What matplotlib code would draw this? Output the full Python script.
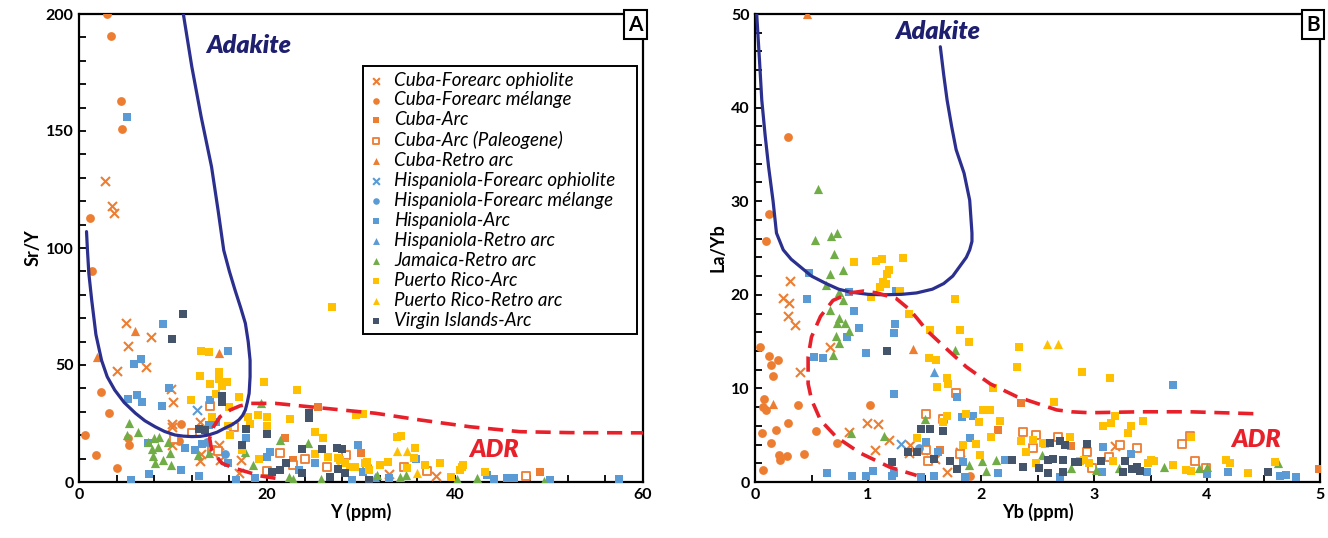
import matplotlib
matplotlib.use("Agg")
import matplotlib.pyplot as plt

plt.rcParams['font.family'] = ['Lato', 'DejaVu Sans']

# ---------------- colours ----------------
ORANGE = '#ED7D31'
BLUE = '#5B9BD5'
GREEN = '#70AD47'
YELLOW = '#FFC000'
GRAY = '#44546A'
NAVY = '#2B2F8E'
NAVY_TXT = '#1E1F6E'
RED = '#E8202A'

# ---------------- series names ----------------
series_names = ['Cuba-Forearc ophiolite', 'Cuba-Forearc mélange', 'Cuba-Arc',
                'Cuba-Arc (Paleogene)', 'Cuba-Retro arc', 'Hispaniola-Forearc ophiolite',
                'Hispaniola-Forearc mélange', 'Hispaniola-Arc', 'Hispaniola-Retro arc',
                'Jamaica-Retro arc', 'Puerto Rico-Arc', 'Puerto Rico-Retro arc',
                'Virgin Islands-Arc']

# ================= Panel A : Y (ppm) vs Sr/Y =================
a_cuba_fo_x = [2.8, 3.5, 3.7, 5.0, 5.2, 7.7, 4.0, 7.1, 9.8, 10.0, 9.9, 9.9, 12.9, 9.9, 14.9, 15.0, 13.0, 12.9, 17.0, 17.2, 33.0, 38.0]
a_cuba_fo_y = [128.6, 118, 115, 68, 58, 62, 47.6, 49, 39.6, 34, 25, 23.6, 25.5, 16, 16, 9.4, 12, 9, 4, 9.4, 3.4, 2.5]

a_cuba_fm_x = [3.0, 3.4, 4.5, 4.6, 1.2, 1.4, 2.3, 3.2, 0.6, 1.8, 4.0, 5.2, 5.3, 10.9, 10.6]
a_cuba_fm_y = [200, 190.6, 163, 150.7, 113, 90, 38.6, 29.6, 20, 11.5, 5.8, 18.7, 16, 24.8, 17.6]

a_cuba_arc_x = [25.4, 21.9, 22.8, 30.0, 49.0]
a_cuba_arc_y = [32, 18.7, 9.4, 12.3, 4.4]

a_cuba_pal_x = [13.9, 12.0, 10.1, 16.5, 14.2, 14.8, 21.4, 24.0, 20.0, 22.8, 28.4, 26.4, 30.6, 34.6, 37.0, 47.6]
a_cuba_pal_y = [32.5, 20.8, 18.4, 23.6, 13.7, 13.2, 12.5, 9.8, 4.7, 7.3, 11.5, 6.5, 5.4, 6.3, 4.6, 2.6]

a_cuba_ret_x = [6.0, 1.9, 14.9]
a_cuba_ret_y = [64.7, 53.6, 55.3]

a_hisp_fo_x = [12.6]
a_hisp_fo_y = [30.8]

a_hisp_fm_x = [15.5, 13.6]
a_hisp_fm_y = [12, 17]

a_hisp_arc_x = [5.1, 8.9, 6.6, 5.8, 5.2, 6.2, 6.7, 15.8, 8.8, 13.9, 11.3, 12.3, 13.1, 13.8, 14.6, 7.3, 10.9, 7.4, 5.5, 12.8,
                15.8, 16.7, 18.7, 20.0, 17.8, 20.3, 23.4, 25.1, 29.7, 29.0, 30.2, 35.9, 33.0, 43.4, 45.5, 46.3, 50.1, 57.4, 44.1, 9.6]
a_hisp_arc_y = [156, 67.5, 52.4, 50.4, 35.5, 37, 34, 56, 32.5, 35, 14.4, 13.7, 16.2, 24.4, 25.8, 16.8, 5.1, 3.4, 0.9, 2.6,
                8.3, 0.9, 1.6, 10.6, 18.7, 13, 5.1, 8, 15.8, 0.9, 4.4, 10, 1.7, 3, 1.6, 1.6, 0.9, 1.1, 1.1, 40]

a_hisp_ret_x = [31.5]
a_hisp_ret_y = [2.0]

a_jam_ret_x = [5.3, 5.1, 6.3, 7.3, 8.0, 8.5, 7.8, 8.4, 7.9, 8.9, 9.7, 9.8, 8.1, 9.5, 12.7, 13.8, 19.4, 17.7, 18.5, 21.4,
               24.4, 22.3, 22.8, 25.7, 31.7, 34.1, 34.8, 40.2, 42.3, 49.5]
a_jam_ret_y = [25.4, 20, 21.5, 17.2, 18.7, 19.1, 14, 15.1, 11.1, 9.4, 12.3, 7.3, 8, 17.2, 11.5, 12.3, 33.6, 13, 7.3, 18,
               16.8, 2.3, 1.1, 1.1, 3, 2, 3, 1.1, 1.8, 0.3]

a_pr_arc_x = [26.9, 13.0, 13.8, 12.9, 14.9, 14.9, 15.7, 13.9, 15.2, 19.7, 23.2, 11.9, 14.6, 16.0, 17.0, 14.1, 18.0, 19.0,
              20.0, 20.0, 22.4, 25.1, 26.0, 15.9, 16.1, 17.3, 18.2, 19.2, 25.1, 26.5, 27.6, 28.3, 29.5, 30.2, 29.4, 30.4,
              30.8, 33.8, 34.3, 35.7, 27.8, 28.8, 30.6, 32.0, 32.9, 34.9, 36.8, 39.6, 40.9, 40.5, 38.4, 40.7, 43.2, 35.6]
a_pr_arc_y = [75, 56, 55.7, 45.3, 46.9, 43.9, 42.9, 41.9, 41, 42.6, 39.3, 35, 37.6, 32.2, 36.2, 27.9, 27.9, 28.6,
              27.6, 24.1, 26.8, 21.5, 18.7, 24, 20, 13.7, 25, 9.7, 12, 10.8, 10.1, 8, 28.6, 29, 6.5, 8,
              5.1, 19.1, 19.7, 14.4, 9.4, 6.5, 8.7, 7.3, 8.7, 5.8, 7.3, 2.3, 7.3, 5.1, 8, 6.5, 4.4, 10.1]

a_pr_ret_x = [33.8, 34.9, 27.5, 36.0]
a_pr_ret_y = [13.4, 13.4, 7.0, 4.0]

a_vi_arc_x = [11.1, 9.9, 15.2, 15.2, 24.5, 24.5, 12.8, 13.4, 17.8, 20.0, 17.3, 23.7, 25.9, 27.4, 28.0, 22.0, 20.5, 23.7,
              27.6, 28.3, 26.7, 30.8, 21.4]
a_vi_arc_y = [71.7, 61, 36.8, 34.3, 29.6, 27.2, 22.5, 22.2, 22.5, 20.5, 15.8, 14, 14, 14.4, 14, 8, 4.4, 4,
              5.4, 4, 2.3, 0.9, 5.1]

# field boundaries, panel A
a_adakite_x = [11.1, 12.0, 13.0, 14.1, 14.8, 15.4, 16.0, 16.6, 17.2, 17.7, 18.0, 18.2, 18.2, 18.1, 17.9, 17.7, 17.4, 17.0,
               16.3, 15.5, 14.7, 13.8, 12.9, 12.0, 11.1, 10.2, 9.1, 8.1, 7.0, 6.0, 4.8, 3.8, 3.0, 2.4, 1.8, 1.35, 1.05, 0.9, 0.8]
a_adakite_y = [200, 177.5, 156, 134.7, 116, 99, 90, 82, 74.5, 67.8, 60, 52, 45, 37.9, 34, 30.8, 28.4, 26.5,
               24.5, 23, 21.3, 20.1, 19.5, 19.4, 19.6, 20.1, 21.6, 23.6, 26.2, 29.4, 34, 39.3, 45, 52, 63, 77.8, 89, 99, 107]

a_adr_x = [20.9, 19.3, 17.8, 16.6, 15.2, 14.1, 13.9, 14.3, 15.0, 16.1, 17.1, 18.2, 20.9, 24.4, 27.9, 31.5, 36.3, 41.6, 46.9, 52.2, 60.0]
a_adr_y = [1.6, 2.6, 4.4, 5.8, 8.0, 13.7, 18.7, 23.5, 27.9, 30.8, 32.5, 33.6, 33.6, 32.2, 30.8, 29.4, 26.5, 23.6, 21.5, 21.1, 21.0]

# ================= Panel B : Yb (ppm) vs La/Yb =================
b_cuba_fo_x = [0.31, 0.25, 0.30, 0.29, 0.35, 0.66, 0.40, 0.83, 1.06, 0.99, 1.09, 1.19, 1.37, 1.49, 1.70, 1.81, 1.59, 1.36, 3.19]
b_cuba_fo_y = [21.5, 19.7, 19.1, 17.7, 16.8, 14.4, 11.7, 5.3, 3.4, 6.3, 6.2, 4.5, 4.0, 3.4, 1.1, 3.2, 2.5, 3.1, 3.8]

b_cuba_fm_x = [0.29, 0.12, 0.10, 0.04, 0.12, 0.14, 0.20, 0.16, 0.08, 0.07, 0.10, 0.38, 0.29, 0.06, 0.19, 0.54, 0.14,
               0.21, 0.22, 0.28, 0.43, 0.07, 1.02, 0.73, 1.90]
b_cuba_fm_y = [36.9, 28.6, 25.7, 14.4, 13.5, 12.5, 13.0, 11.3, 8.9, 8.0, 7.7, 8.2, 6.3, 5.2, 5.6, 5.5, 4.2,
               2.9, 2.3, 2.8, 3.0, 1.3, 8.2, 4.2, 0.6]

b_cuba_arc_x = [2.35, 2.15, 1.64, 2.80, 4.99]
b_cuba_arc_y = [8.4, 5.6, 3.4, 3.8, 1.4]

b_cuba_pal_x = [1.78, 1.51, 1.66, 2.37, 2.46, 1.51, 1.53, 1.81, 2.49, 2.68, 2.94, 3.23, 3.38, 3.13, 2.98, 3.78, 3.85, 3.89, 3.99]
b_cuba_pal_y = [9.5, 7.3, 6.7, 5.3, 3.6, 3.4, 2.2, 3.0, 5.0, 4.8, 3.2, 3.9, 3.6, 2.7, 1.5, 4.1, 4.9, 2.2, 1.5]

b_cuba_ret_x = [0.46, 1.40, 0.16]
b_cuba_ret_y = [50, 14.2, 8.3]

b_hisp_fo_x = [1.29]
b_hisp_fo_y = [4.1]

b_hisp_fm_x = [1.45]
b_hisp_fm_y = [3.6]

b_hisp_arc_x = [0.48, 0.46, 0.83, 0.88, 0.92, 0.81, 0.52, 0.60, 0.98, 1.24, 1.23, 1.25, 1.23, 1.79, 1.83, 1.93, 1.90, 1.51,
                1.62, 0.64, 0.86, 0.98, 1.04, 1.21, 1.23, 1.47, 1.58, 1.84, 1.86, 2.15, 2.21, 3.70, 3.08, 3.33, 3.07, 3.47,
                4.00, 4.19, 4.65, 4.70, 4.79, 2.70]
b_hisp_arc_y = [22.3, 19.5, 20.3, 18.3, 16.4, 15.5, 13.4, 13.3, 13.8, 16.9, 15.9, 20.4, 9.4, 9.1, 6.9, 7.0, 4.7, 4.3,
                3.2, 1.0, 0.6, 0.6, 1.2, 0.6, 1.0, 0.5, 0.6, 2.1, 0.5, 1.0, 2.4, 10.4, 3.7, 3.0, 1.1, 1.1,
                0.9, 1.1, 0.6, 0.7, 0.5, 0.5]

b_hisp_ret_x = [1.58]
b_hisp_ret_y = [11.7]

b_jam_ret_x = [0.56, 0.53, 0.67, 0.73, 0.70, 0.66, 0.78, 0.63, 0.74, 0.78, 0.66, 0.74, 0.73, 0.80, 0.83, 0.72, 0.74,
               0.69, 1.77, 1.50, 0.85, 1.14, 2.01, 2.04, 2.13, 1.89, 2.54, 2.80, 3.02, 3.22, 3.62, 3.93, 4.00, 4.63]
b_jam_ret_y = [31.3, 25.9, 26.3, 26.6, 24.4, 22.2, 22.7, 21.0, 20.3, 19.4, 18.4, 17.5, 17.0, 17.0, 16.1, 15.6, 14.8,
               13.6, 14.1, 6.7, 5.2, 4.9, 2.2, 1.2, 2.3, 1.8, 2.9, 1.5, 1.3, 1.5, 1.6, 1.5, 1.6, 2.0]

b_pr_arc_x = [0.88, 1.07, 1.12, 1.31, 1.19, 1.17, 1.13, 1.16, 1.11, 1.28, 1.03, 1.36, 1.77, 1.55, 1.81, 1.89, 1.54, 1.60,
              1.70, 1.71, 1.61, 2.11, 2.34, 2.32, 1.87, 1.70, 1.66, 2.02, 2.08, 1.98, 2.17, 2.09, 1.96, 1.84, 1.99, 2.35,
              2.40, 2.46, 2.55, 2.49, 1.43, 2.89, 3.14, 2.65, 3.08, 3.15, 3.19, 3.30, 3.33, 3.43, 2.79, 2.57, 2.91, 2.96,
              3.17, 3.48, 3.53, 3.70, 3.81, 3.86, 4.17, 4.20, 4.36, 4.60, 3.86, 2.88, 3.50]
b_pr_arc_y = [23.5, 23.6, 23.8, 23.9, 22.7, 22.2, 21.4, 21.2, 20.8, 20.4, 19.8, 17.9, 19.5, 16.2, 16.2, 15.0, 13.3, 13.0,
              11.1, 10.5, 10.2, 10.0, 14.4, 12.3, 7.3, 7.0, 6.4, 7.7, 7.7, 6.4, 6.5, 4.8, 4.1, 4.0, 2.9, 4.4,
              3.2, 4.5, 4.2, 2.0, 4.7, 11.8, 11.1, 8.6, 6.0, 6.3, 7.0, 5.2, 6.0, 6.5, 4.8, 4.1, 2.4, 2.0,
              2.2, 2.0, 2.2, 1.8, 1.3, 1.2, 2.4, 2.0, 1.0, 2.1, 4.8, 2.2, 2.4]

b_pr_ret_x = [2.58, 2.68]
b_pr_ret_y = [14.7, 14.7]

b_vi_arc_x = [1.17, 1.47, 1.55, 1.66, 1.35, 1.43, 1.58, 1.21, 1.73, 1.79, 2.27, 2.37, 2.51, 2.59, 2.61, 2.70, 2.74, 2.94,
              2.83, 2.64, 2.73, 2.59, 2.73, 3.06, 3.27, 3.26, 3.34, 3.38, 3.41, 4.54, 2.86]
b_vi_arc_y = [14.0, 5.7, 5.7, 5.4, 3.2, 3.2, 2.5, 2.1, 2.2, 1.4, 2.4, 1.6, 1.5, 2.4, 4.2, 4.4, 4.0, 4.1,
              2.1, 2.5, 2.3, 1.0, 1.1, 2.2, 2.2, 1.1, 1.4, 1.6, 1.2, 1.1, 2.1]

# field boundaries, panel B
b_adakite_x = [0.015, 0.04, 0.06, 0.09, 0.12, 0.16, 0.19, 0.25, 0.32, 0.40, 0.50, 0.63, 0.74, 0.84, 1.0, 1.14, 1.30, 1.43,
               1.57, 1.67, 1.75, 1.81, 1.87, 1.90, 1.92, 1.92, 1.90, 1.85, 1.78, 1.74, 1.70, 1.67, 1.64]
b_adakite_y = [50, 45, 40.8, 37, 33.7, 30, 26.6, 24.8, 23.8, 23.0, 22.0, 21.2, 20.6, 20.3, 20.05, 20.0, 20.05, 20.2,
               20.6, 21.2, 22.0, 23.0, 24.0, 24.8, 25.7, 26.6, 30.1, 33.0, 35.5, 38.0, 40.8, 43.5, 46.5]

b_adr_x = [4.41, 3.85, 3.41, 2.96, 2.80, 2.67, 2.52, 2.32, 2.08, 1.87, 1.67, 1.52, 1.44, 1.37, 1.25, 1.08, 0.96, 0.84,
           0.69, 0.58, 0.50, 0.47, 0.47, 0.50, 0.58, 0.72, 0.93, 1.19, 1.43]
b_adr_y = [7.3, 7.5, 7.5, 7.4, 7.5, 7.7, 8.3, 9.1, 10.5, 12.3, 14.5, 16.2, 17.4, 18.4, 19.6, 20.2, 20.4, 20.2,
           19.4, 17.7, 15.5, 13.4, 10.5, 8.8, 6.6, 4.8, 3.1, 1.6, 0.7]

# ---------------- styles per series ----------------
styles = [
    dict(marker='x', c=ORANGE, s=42, linewidths=1.5),
    dict(marker='o', c=ORANGE, s=40, linewidths=0),
    dict(marker='s', c=ORANGE, s=38, linewidths=0),
    dict(marker='s', facecolors='white', edgecolors=ORANGE, s=36, linewidths=1.3),
    dict(marker='^', c=ORANGE, s=44, linewidths=0),
    dict(marker='x', c=BLUE, s=42, linewidths=1.5),
    dict(marker='o', c=BLUE, s=40, linewidths=0),
    dict(marker='s', c=BLUE, s=38, linewidths=0),
    dict(marker='^', c=BLUE, s=44, linewidths=0),
    dict(marker='^', c=GREEN, s=44, linewidths=0),
    dict(marker='s', c=YELLOW, s=38, linewidths=0),
    dict(marker='^', c=YELLOW, s=44, linewidths=0),
    dict(marker='s', c=GRAY, s=38, linewidths=0),
]

panel_a = [(a_cuba_fo_x, a_cuba_fo_y), (a_cuba_fm_x, a_cuba_fm_y), (a_cuba_arc_x, a_cuba_arc_y),
           (a_cuba_pal_x, a_cuba_pal_y), (a_cuba_ret_x, a_cuba_ret_y), (a_hisp_fo_x, a_hisp_fo_y),
           (a_hisp_fm_x, a_hisp_fm_y), (a_hisp_arc_x, a_hisp_arc_y), (a_hisp_ret_x, a_hisp_ret_y),
           (a_jam_ret_x, a_jam_ret_y), (a_pr_arc_x, a_pr_arc_y), (a_pr_ret_x, a_pr_ret_y),
           (a_vi_arc_x, a_vi_arc_y)]
panel_b = [(b_cuba_fo_x, b_cuba_fo_y), (b_cuba_fm_x, b_cuba_fm_y), (b_cuba_arc_x, b_cuba_arc_y),
           (b_cuba_pal_x, b_cuba_pal_y), (b_cuba_ret_x, b_cuba_ret_y), (b_hisp_fo_x, b_hisp_fo_y),
           (b_hisp_fm_x, b_hisp_fm_y), (b_hisp_arc_x, b_hisp_arc_y), (b_hisp_ret_x, b_hisp_ret_y),
           (b_jam_ret_x, b_jam_ret_y), (b_pr_arc_x, b_pr_arc_y), (b_pr_ret_x, b_pr_ret_y),
           (b_vi_arc_x, b_vi_arc_y)]

fig = plt.figure(figsize=(13.28, 5.38), dpi=100)
axA = fig.add_axes([79 / 1328, 1 - 482 / 538, (643 - 79) / 1328, 468 / 538])
axB = fig.add_axes([755 / 1328, 1 - 482 / 538, (1320 - 755) / 1328, 468 / 538])


def style_axes(ax, xlim, ylim, xmaj, xmin, ymaj, ymin, xlabel, ylabel, letter):
    ax.set_xlim(*xlim)
    ax.set_ylim(*ylim)
    ax.xaxis.set_major_locator(matplotlib.ticker.MultipleLocator(xmaj))
    ax.xaxis.set_minor_locator(matplotlib.ticker.MultipleLocator(xmin))
    ax.yaxis.set_major_locator(matplotlib.ticker.MultipleLocator(ymaj))
    ax.yaxis.set_minor_locator(matplotlib.ticker.MultipleLocator(ymin))
    ax.tick_params(which='both', direction='in', length=5, width=1.3, color='black')
    ax.tick_params(which='major', labelsize=11.5, pad=4)
    for lab in ax.get_xticklabels() + ax.get_yticklabels():
        lab.set_fontweight('bold')
    for sp in ax.spines.values():
        sp.set_linewidth(1.6)
        sp.set_color('black')
    ax.set_xlabel(xlabel, fontsize=13, fontweight='bold', labelpad=1)
    ax.set_ylabel(ylabel, fontsize=13, fontweight='bold', labelpad=3)
    ax.text(0.9995, 0.9985, letter, transform=ax.transAxes, ha='right', va='top',
            fontsize=15, fontweight='bold', zorder=10,
            bbox=dict(boxstyle='square,pad=0.22', fc='white', ec='black', lw=1.5))


for ax, data in ((axA, panel_a), (axB, panel_b)):
    for name, (xs, ys), st in zip(series_names, data, styles):
        ax.scatter(xs, ys, label=name, zorder=3, clip_on=True, **st)

# boundaries
axA.plot(a_adakite_x, a_adakite_y, color=NAVY, lw=2.3, zorder=5, solid_capstyle='round')
axA.plot(a_adr_x, a_adr_y, color=RED, lw=2.6, ls=(0, (4.2, 2.4)), zorder=5)
axB.plot(b_adakite_x, b_adakite_y, color=NAVY, lw=2.3, zorder=5, solid_capstyle='round')
axB.plot(b_adr_x, b_adr_y, color=RED, lw=2.6, ls=(0, (4.2, 2.4)), zorder=5)

axA.text(18.1, 186.5, 'Adakite', color=NAVY_TXT, fontsize=18, fontweight='heavy', style='italic',
         ha='center', va='center', zorder=6)
axA.text(44.1, 13.8, 'ADR', color=RED, fontsize=18, fontweight='heavy', style='italic',
         ha='center', va='center', zorder=6)
axB.text(1.62, 48.1, 'Adakite', color=NAVY_TXT, fontsize=18, fontweight='heavy', style='italic',
         ha='center', va='center', zorder=6)
axB.text(4.43, 4.5, 'ADR', color=RED, fontsize=18, fontweight='heavy', style='italic',
         ha='center', va='center', zorder=6)

style_axes(axA, (0, 60), (0, 200), 20, 4, 50, 10, 'Y (ppm)', 'Sr/Y', 'A')
style_axes(axB, (0, 5), (0, 50), 1, 0.5, 10, 2, 'Yb (ppm)', 'La/Yb', 'B')

leg = axA.legend(loc='upper left', bbox_to_anchor=(0.5035, 0.0, 0.4855, 0.889), mode='expand',
                 frameon=True, fancybox=False,
                 edgecolor='black', framealpha=1, markerscale=0.75, handlelength=0.8,
                 handletextpad=0.55, labelspacing=0.155, borderpad=0.3, borderaxespad=0,
                 prop=dict(style='italic', size=13.5))
leg.get_frame().set_linewidth(1.4)
leg.set_zorder(8)

fig.savefig('out.png', dpi=100, facecolor='white')
